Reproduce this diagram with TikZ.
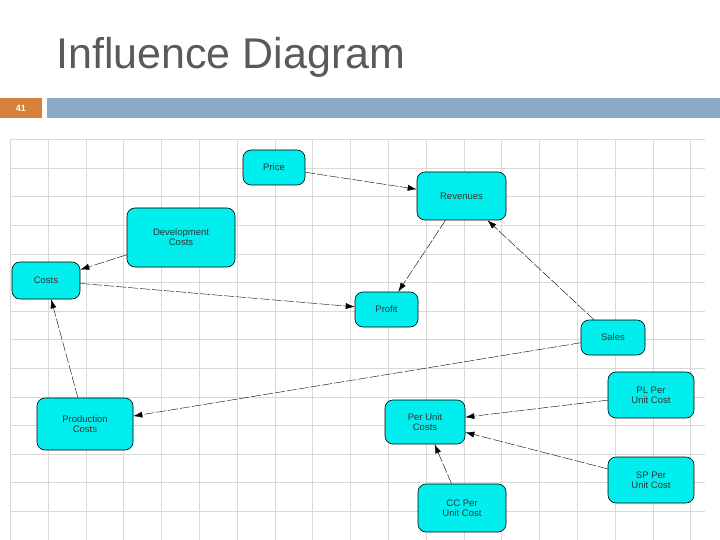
\documentclass[tikz,border=0pt]{standalone}
\usepackage{fontspec}
\setmainfont{Liberation Sans}
\usetikzlibrary{arrows.meta}
\definecolor{cy}{RGB}{0,238,238}
\definecolor{ttl}{RGB}{90,90,90}
\definecolor{org}{RGB}{214,130,60}
\definecolor{bar}{RGB}{140,170,200}
\tikzset{
 box/.style={draw=black,fill=cy,semithick,rounded corners=8pt,font=\fontsize{9.5}{10}\selectfont,text=black!80,align=center,inner sep=0pt},
 arr/.style={-{Latex[length=9pt,width=6pt]},dash pattern=on 10pt off 2pt,thin}
}
\begin{document}
\begin{tikzpicture}[x=1pt,y=-1pt]
\useasboundingbox (0,0) rectangle (720,540);
\fill[white] (0,0) rectangle (720,540);
\node[text=ttl,font=\fontsize{43}{45}\selectfont,anchor=west,inner sep=0pt] (title) at (56,57) {Influence Diagram};
\fill[org] (0,98) rectangle (42,118);
\node[text=white,font=\bfseries\fontsize{9}{10}\selectfont] (num) at (21,108) {41};
\fill[bar] (47,98) rectangle (720,118);
\foreach \i in {0,...,18} \draw[black!15] (10.2+37.8*\i,140) -- (10.2+37.8*\i,540);
\foreach \j in {0,...,14} \draw[black!15] (10,139.4+28.6*\j) -- (705,139.4+28.6*\j);
\node[box,minimum width=62pt,minimum height=35pt] (price) at (274,167.5) {Price};
\node[box,minimum width=89pt,minimum height=48pt] (rev) at (461.5,196) {Revenues};
\node[box,minimum width=108pt,minimum height=59pt] (dev) at (181,237.5) {Development\\Costs};
\node[box,minimum width=68pt,minimum height=37pt] (costs) at (46,280.5) {Costs};
\node[box,minimum width=63pt,minimum height=35pt] (profit) at (386.5,309.5) {Profit};
\node[box,minimum width=64pt,minimum height=35pt] (sales) at (613,337.5) {Sales};
\node[box,minimum width=86pt,minimum height=46pt] (pl) at (651,395) {PL Per\\Unit Cost};
\node[box,minimum width=96pt,minimum height=52pt] (prod) at (85,424) {Production\\Costs};
\node[box,minimum width=80pt,minimum height=44pt] (puc) at (425,422) {Per Unit\\Costs};
\node[box,minimum width=86pt,minimum height=46pt] (sp) at (651,480) {SP Per\\Unit Cost};
\node[box,minimum width=88pt,minimum height=48pt] (cc) at (462,508) {CC Per\\Unit Cost};
\draw[arr] (price) -- (rev);
\draw[arr] (rev) -- (profit);
\draw[arr] (sales) -- (rev);
\draw[arr] (dev) -- (costs);
\draw[arr] (costs) -- (profit);
\draw[arr] (prod) -- (costs);
\draw[arr] (sales) -- (prod);
\draw[arr] (pl) -- (puc);
\draw[arr] (sp) -- (puc);
\draw[arr] (cc) -- (puc);
\end{tikzpicture}
\end{document}
